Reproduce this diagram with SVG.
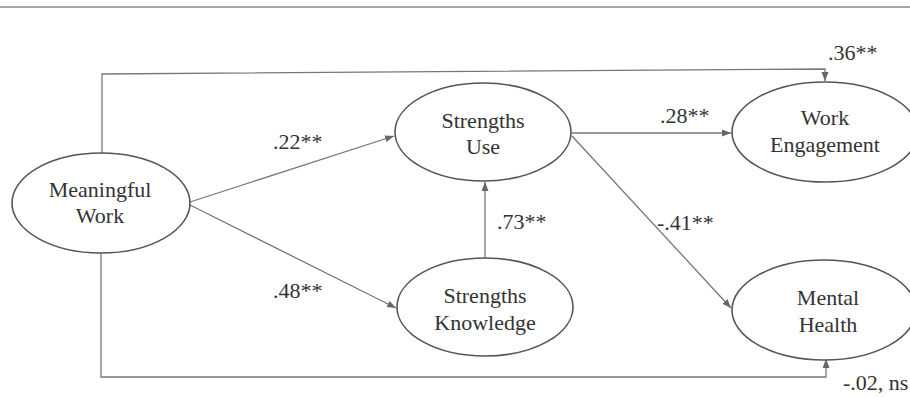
<svg xmlns="http://www.w3.org/2000/svg" width="910" height="397" viewBox="0 0 910 397">
<style>
.node ellipse{fill:#fff;stroke:#555;stroke-width:1.6}
.node text,.lbl{font-family:"Liberation Serif","Times New Roman",serif;font-size:22px;fill:#333;text-anchor:middle}
.lbl{text-anchor:start}
.conn{fill:none;stroke:#777;stroke-width:1.3}
</style>
<defs>
<marker id="ah" markerUnits="userSpaceOnUse" markerWidth="10" markerHeight="8" refX="9" refY="3.5" orient="auto">
<path d="M0,0 L9,3.5 L0,7 z" fill="#666"/>
</marker>
</defs>
<rect width="910" height="397" fill="#fff"/>
<line x1="0" y1="7" x2="910" y2="7" stroke="#888" stroke-width="1.5"/>
<g id="connectors">
<path class="conn" d="M102,154 V74 L825,69 V81" marker-end="url(#ah)"/>
<path class="conn" d="M101,253 V377 H826 V359" marker-end="url(#ah)"/>
<line class="conn" x1="190" y1="202" x2="394" y2="136" marker-end="url(#ah)"/>
<line class="conn" x1="190" y1="205" x2="396" y2="308" marker-end="url(#ah)"/>
<line class="conn" x1="485" y1="258" x2="485" y2="182" marker-end="url(#ah)"/>
<line class="conn" x1="572" y1="133" x2="731" y2="133" marker-end="url(#ah)"/>
<line class="conn" x1="572" y1="136" x2="731" y2="308" marker-end="url(#ah)"/>
</g>
<g id="meaningful-work" class="node">
<ellipse cx="101" cy="203" rx="89" ry="50"/>
<text x="100" y="197">Meaningful</text>
<text x="100" y="223">Work</text>
</g>
<g id="strengths-use" class="node">
<ellipse cx="483" cy="132" rx="88" ry="49"/>
<text x="483" y="128">Strengths</text>
<text x="483" y="154">Use</text>
</g>
<g id="strengths-knowledge" class="node">
<ellipse cx="485" cy="307" rx="88" ry="49"/>
<text x="485" y="303">Strengths</text>
<text x="485" y="330">Knowledge</text>
</g>
<g id="work-engagement" class="node">
<ellipse cx="825" cy="132" rx="93" ry="50"/>
<text x="825" y="125">Work</text>
<text x="825" y="152">Engagement</text>
</g>
<g id="mental-health" class="node">
<ellipse cx="824" cy="310" rx="92" ry="50"/>
<text x="828" y="305">Mental</text>
<text x="828" y="332">Health</text>
</g>
<g id="labels">
<text class="lbl" x="273" y="149">.22**</text>
<text class="lbl" x="273" y="298">.48**</text>
<text class="lbl" x="497" y="229">.73**</text>
<text class="lbl" x="660" y="123">.28**</text>
<text class="lbl" x="657" y="230">-.41**</text>
<text class="lbl" x="828" y="60">.36**</text>
<text class="lbl" x="843" y="390">-.02, ns</text>
</g>
</svg>
